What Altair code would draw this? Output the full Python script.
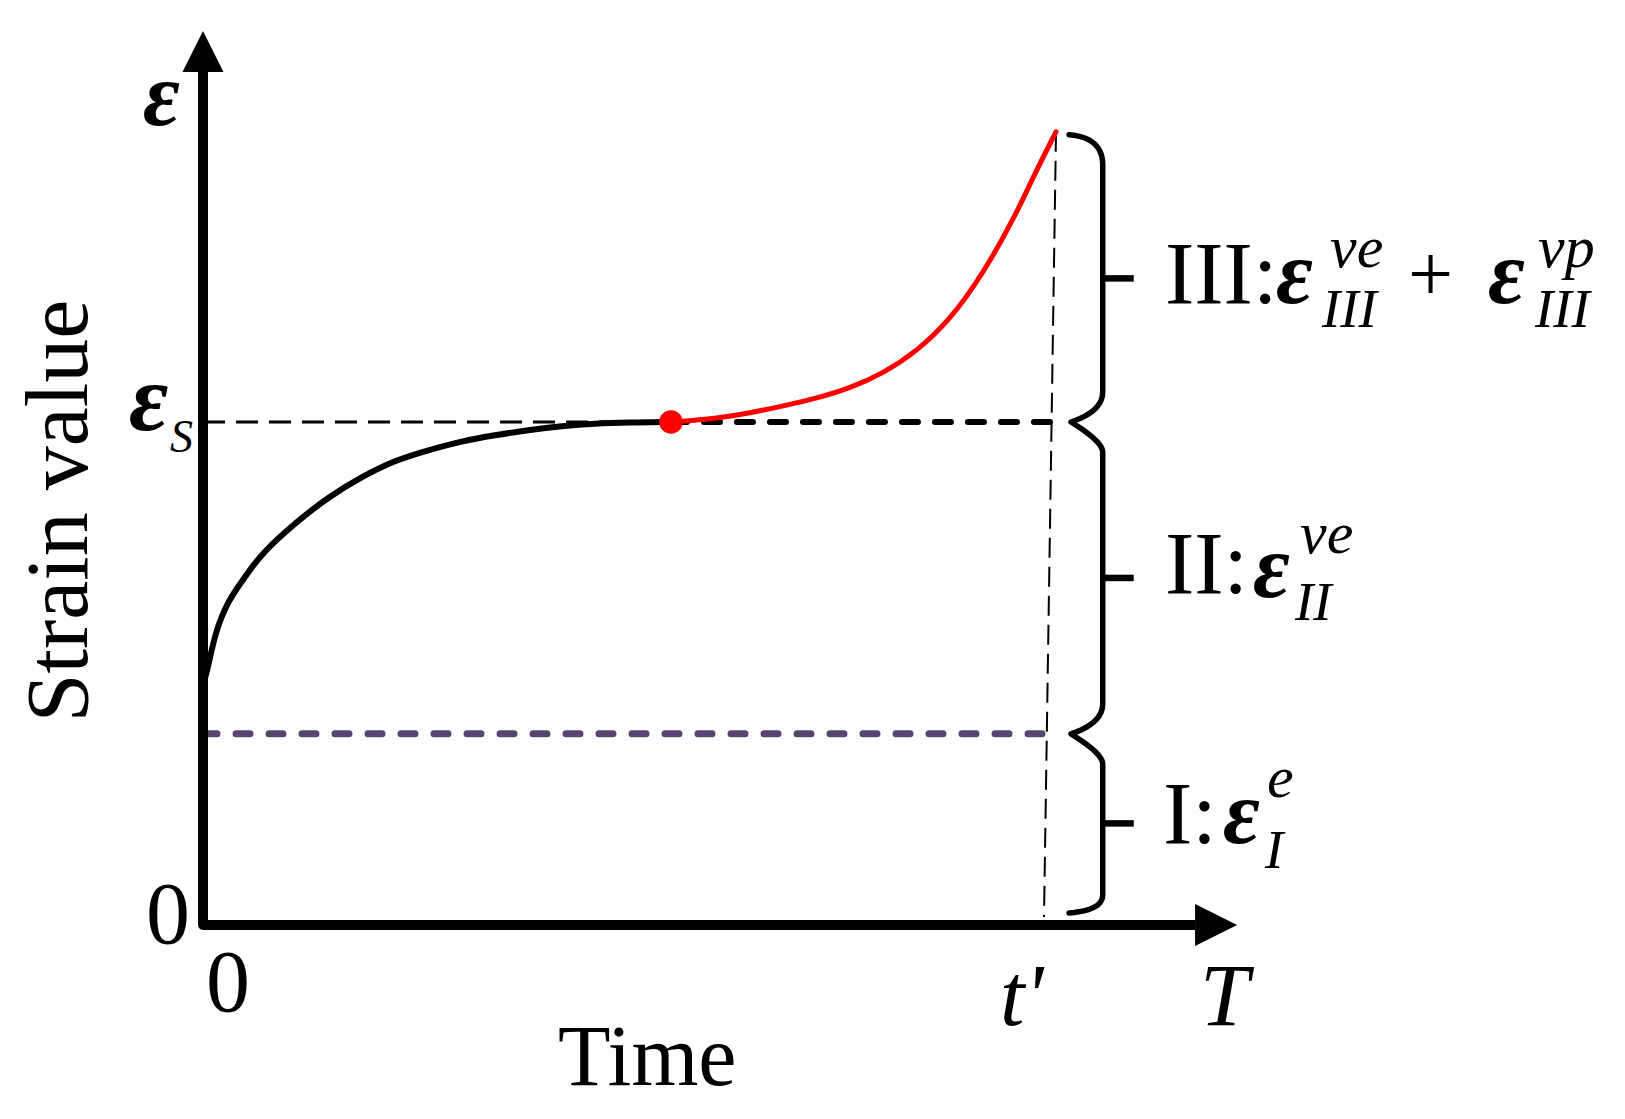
import altair as alt
import pandas as pd
import numpy as np

# ---------------- data (time in arbitrary units, strain normalised so eps_s = 1) ----------------
creep_t = [0.0, 0.063, 0.143, 0.301, 0.5, 0.699, 1.095, 1.492, 1.889, 2.286, 2.682,
           3.08, 3.476, 3.873, 4.27, 4.667, 5.063, 5.571]
creep_e = [0.477, 0.513, 0.581, 0.646, 0.692, 0.739, 0.799, 0.851, 0.891, 0.924, 0.944,
           0.962, 0.974, 0.984, 0.992, 0.997, 0.999, 1.0]
tert_t = [5.571, 6.115, 6.512, 6.908, 7.306, 7.702, 8.099, 8.496, 8.893, 9.289, 9.687, 9.885, 10.155]
tert_e = [1.0, 1.007, 1.018, 1.032, 1.047, 1.067, 1.097, 1.14, 1.203, 1.295, 1.415, 1.488, 1.577]

eps_s = 1.0          # steady-state strain level
eps_el = 0.38        # instantaneous elastic strain (stage I)
t_onset = 5.571      # start of tertiary creep
t_fail_top = 10.155  # t' at the top of the curve
t_fail = 10.012      # t' at the time axis
eps_fail = 1.577

axis_top = 1.696     # end of strain axis (arrow base)
axis_right = 11.81   # end of time axis (arrow base)
arrow_y = [0.0, 1.7366]
arrow_x = [12.06, 0.0]

# brace geometry (spine, tips, limits)
brace_spine = 10.711
brace_tip = 10.333
brace_end = 10.31
brace_limits = [1.571, eps_s, eps_el, 0.024]
brace_tick_end = 11.08

# labels: (text, x, y, size)
upright_labels = [
    ("III:", 11.452, 1.2366, 88),
    ("II:", 11.452, 0.660, 88),
    ("I:", 11.429, 0.163, 88),
    ("+", 14.345, 1.2406, 80),
    ("0", -0.679, -0.0358, 88),
    ("0", 0.0357, -0.171, 88),
    ("Time", 4.226, -0.318, 86),
]
epsilon_labels = [
    ("ε", -0.714, 1.590, 90),
    ("ε", -0.881, 0.984, 96),
    ("ε", 12.774, 1.2366, 90),
    ("ε", 15.298, 1.2366, 90),
    ("ε", 12.5, 0.652, 90),
    ("ε", 12.143, 0.163, 90),
]
italic_labels = [
    ("S", -0.393, 0.940, 46),
    ("ve", 13.417, 1.308, 60),
    ("III", 13.321, 1.189, 55),
    ("vp", 15.893, 1.308, 60),
    ("III", 15.857, 1.189, 55),
    ("ve", 13.06, 0.7396, 60),
    ("II", 13.0, 0.606, 55),
    ("e", 12.667, 0.2545, 60),
    ("I", 12.643, 0.1133, 55),
    ("t'", 9.488, -0.199, 88),
    ("T", 11.869, -0.199, 88),
]
ylabel = ("Strain value", -1.381, 0.823, 88)

# ---------------- scales ----------------
X_DOM = [-2.3214, 16.8333]
Y_DOM = [-0.36978, 1.82306]
W, H = 1609, 1103
FONT = "Liberation Serif"

xs = alt.Scale(domain=X_DOM, nice=False, zero=False)
ys = alt.Scale(domain=Y_DOM, nice=False, zero=False)


def enc_xy():
    return dict(x=alt.X("x:Q", scale=xs, axis=None), y=alt.Y("y:Q", scale=ys, axis=None))


def path_df(xv, yv):
    return pd.DataFrame({"x": xv, "y": yv, "i": list(range(len(xv)))})


def line_layer(df, **mk):
    return alt.Chart(df).mark_line(**mk).encode(order="i:Q", **enc_xy())


# axes (L-shaped polyline)
axes = line_layer(path_df([0.0, 0.0, axis_right], [axis_top, 0.0, 0.0]),
                  color="black", strokeWidth=10, strokeJoin="round", strokeCap="butt")
arrow_up = alt.Chart(pd.DataFrame({"x": [arrow_x[1]], "y": [arrow_y[1]]})).mark_point(
    shape="M0,-1L1,1L-1,1Z", filled=True, size=1681, color="black", opacity=1, strokeWidth=0
).encode(**enc_xy())
arrow_right = alt.Chart(pd.DataFrame({"x": [arrow_x[0]], "y": [arrow_y[0]]})).mark_point(
    shape="M-1,-1L1,0L-1,1Z", filled=True, size=1764, color="black", opacity=1, strokeWidth=0
).encode(**enc_xy())

# reference lines
purple = line_layer(path_df([0.0, 10.095], [eps_el, eps_el]),
                    color="#574570", strokeWidth=7, strokeDash=[14, 19], strokeCap="round")
eps_s_thin = line_layer(path_df([0.0, t_onset], [eps_s, eps_s]),
                        color="black", strokeWidth=3, strokeDash=[22, 11])
eps_s_thick = line_layer(path_df([t_onset, 10.12], [eps_s, eps_s]),
                         color="black", strokeWidth=6, strokeDash=[16, 17], strokeCap="round")
t_prime = line_layer(path_df([t_fail_top, t_fail], [eps_fail, 0.016]),
                     color="black", strokeWidth=2, strokeDash=[20, 9])

# creep curves
primary = line_layer(path_df(creep_t, creep_e), color="black", strokeWidth=6,
                     interpolate="basis", strokeCap="round")
tertiary = line_layer(path_df(tert_t, tert_e), color="#FF0000", strokeWidth=5,
                      interpolate="basis", strokeCap="round")
onset_dot = alt.Chart(pd.DataFrame({"x": [t_onset], "y": [eps_s]})).mark_point(
    shape="circle", filled=True, size=560, color="#FF0000", opacity=1, strokeWidth=0
).encode(**enc_xy())


# braces
def qbez(p0, p1, p2, n=14):
    t = np.linspace(0, 1, n)
    bx = (1 - t) ** 2 * p0[0] + 2 * (1 - t) * t * p1[0] + t ** 2 * p2[0]
    by = (1 - t) ** 2 * p0[1] + 2 * (1 - t) * t * p1[1] + t ** 2 * p2[1]
    return list(bx), list(by)


curl = 0.06
end_curl_bot = 0.036
top, s, el, bot = brace_limits
seg = [
    qbez((brace_end, top), (brace_spine, top - 0.005), (brace_spine, top - curl)),
    qbez((brace_spine, s + curl), (brace_spine, s + 0.35 * curl), (brace_tip, s)),
    qbez((brace_tip, s), (brace_spine, s - 0.65 * curl), (brace_spine, s - curl)),
    qbez((brace_spine, el + curl), (brace_spine, el + 0.35 * curl), (brace_tip, el)),
    qbez((brace_tip, el), (brace_spine, el - 0.65 * curl), (brace_spine, el - curl)),
    qbez((brace_spine, bot + end_curl_bot), (brace_spine, bot + 0.005), (brace_end, bot)),
]
bx, by = [], []
for sx, sy in seg:
    bx += sx
    by += sy
brace = line_layer(path_df(bx, by), color="black", strokeWidth=5.5, strokeJoin="round",
                   strokeCap="round", interpolate="linear")

tick_y = [(top + s) / 2, (s + el) / 2, (el + bot) / 2]
tick_df = pd.DataFrame({"x": [brace_spine] * 3, "x2": [brace_tick_end] * 3, "y": tick_y})
ticks = alt.Chart(tick_df).mark_rule(color="black", strokeWidth=6.5).encode(
    x=alt.X("x:Q", scale=xs, axis=None), x2="x2:Q", y=alt.Y("y:Q", scale=ys, axis=None))


# labels
def lab_df(rows):
    return pd.DataFrame(rows, columns=["text", "x", "y", "size"])


up_text = alt.Chart(lab_df(upright_labels)).mark_text(
    font=FONT, align="left", baseline="alphabetic", color="black"
).encode(text="text:N", size=alt.Size("size:Q", scale=None), **enc_xy())
eps_text = alt.Chart(lab_df(epsilon_labels)).mark_text(
    font=FONT, fontStyle="italic", fontWeight="bold", align="left", baseline="alphabetic",
    color="black"
).encode(text="text:N", size=alt.Size("size:Q", scale=None), **enc_xy())
it_text = alt.Chart(lab_df(italic_labels)).mark_text(
    font=FONT, fontStyle="italic", align="left", baseline="alphabetic", color="black"
).encode(text="text:N", size=alt.Size("size:Q", scale=None), **enc_xy())
y_text = alt.Chart(lab_df([ylabel])).mark_text(
    font=FONT, align="center", baseline="alphabetic", angle=270, color="black"
).encode(text="text:N", size=alt.Size("size:Q", scale=None), **enc_xy())

chart = alt.layer(
    purple, eps_s_thin, t_prime, axes, arrow_up, arrow_right,
    primary, eps_s_thick, tertiary, onset_dot, brace, ticks,
    up_text, eps_text, it_text, y_text
).properties(
    width=W, height=H, padding=0, autosize=alt.AutoSizeParams(type="none"), background="white"
).configure_view(strokeWidth=0)

chart.save("out.html", embed_options={"renderer": "svg", "actions": False})
